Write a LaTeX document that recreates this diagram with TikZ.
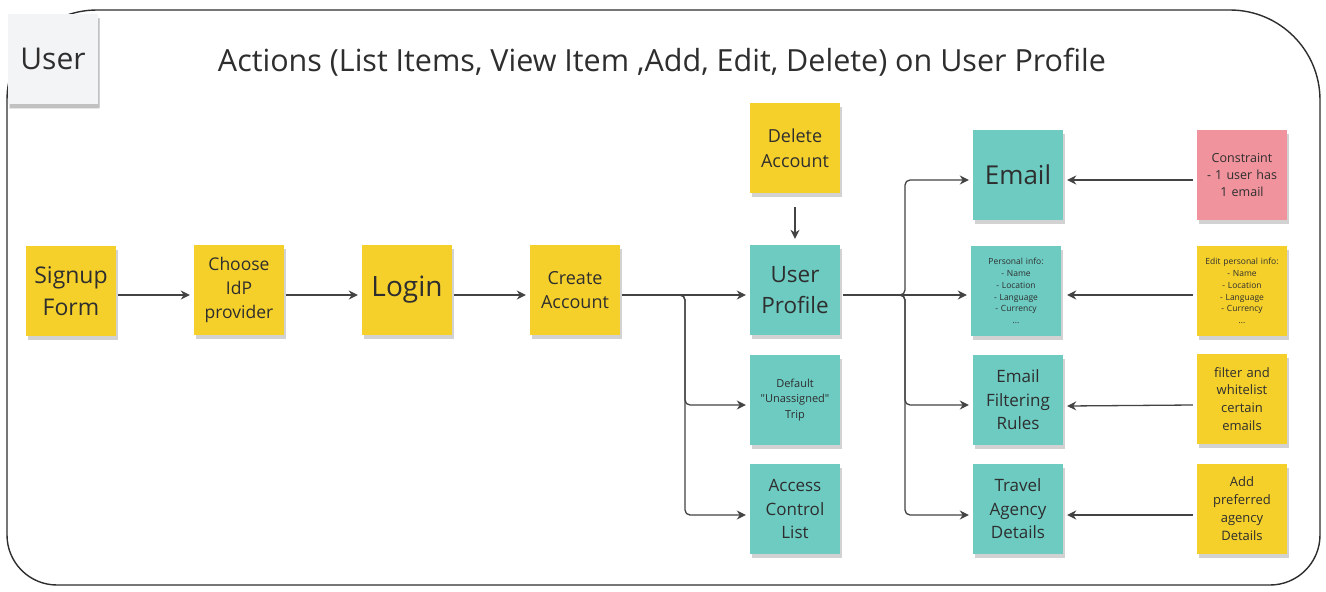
\documentclass[tikz,border=0pt]{standalone}
\usepackage{fontspec}
\setmainfont{Open Sans}
\newfontfamily\plainfont{Open Sans}
\usetikzlibrary{arrows.meta,shadows,calc}
\definecolor{ylw}{HTML}{F5D02B}
\definecolor{teal}{HTML}{6DCBC2}
\definecolor{pnk}{HTML}{F0939D}
\definecolor{gry}{HTML}{F3F4F6}
\definecolor{ink}{HTML}{2E2E2E}
\newcommand{\fs}[1]{\fontsize{#1}{1.38\dimexpr#1pt\relax}\selectfont}
\tikzset{
  sticky/.style={minimum width=90pt,minimum height=90pt,inner sep=2pt,align=center,text=ink,
    text width=86pt,
    drop shadow={shadow xshift=2pt,shadow yshift=-4pt,opacity=0.25,fill=black!70}},
  yel/.style={sticky,fill=ylw},
  tea/.style={sticky,fill=teal},
  pin/.style={sticky,fill=pnk},
  conn/.style={draw=ink!90,line width=1.3pt,-{Stealth[length=9pt,width=9pt]},rounded corners=5pt},
}
\begin{document}
\begin{tikzpicture}[x=1pt,y=-1pt]
\useasboundingbox (0,0) rectangle (1326,592);
\fill[white] (0,0) rectangle (1326,592);
% frame
\draw[line width=1.4pt,ink] (7,300) [rounded corners=90pt] -- (7,10) -- (660,10) -- (1320,10) -- (1320,300) [rounded corners=50pt] -- (1320,585) -- (7,585) -- (7,300);
% user sticky
\node[sticky,fill=gry,font=\fs{30},drop shadow={shadow xshift=1pt,shadow yshift=-5pt,opacity=0.2}] (user) at (53,59) {User};
\node[text=ink,font=\fs{30.5}] (title) at (662,62) {Actions (List Items, View Item ,Add, Edit, Delete) on User Profile};
% stickies
\node[yel,font=\fs{23}] (signup) at (71,291) {Signup\\Form};
\node[yel,font=\fs{17.5}] (idp) at (239,290) {Choose\\IdP\\provider};
\node[yel,font=\fs{28}] (login) at (407,290) {Login};
\node[yel,font=\fs{18}] (create) at (575,290) {Create\\Account};
\node[yel,font=\fs{18}] (delete) at (795,148) {Delete\\Account};
\node[tea,font=\fs{22.5}] (profile) at (795,290) {User\\Profile};
\node[tea,font=\plainfont\fs{11}] (trip) at (795,400) {Default\\"Unassigned"\\Trip};
\node[tea,font=\fs{17}] (acl) at (795,509) {Access\\Control\\List};
\node[tea,font=\fs{26}] (email) at (1018,175) {Email};
\node[tea,font=\fs{8.5}] (pinfo) at (1016,291) {Personal info:\\- Name\\- Location\\- Language\\- Currency\\...};
\node[tea,font=\fs{17}] (filt) at (1018,400) {Email\\Filtering\\Rules};
\node[tea,font=\fs{17}] (travel) at (1018,509) {Travel\\Agency\\Details};
\node[pin,font=\fs{12.5}] (constr) at (1242,175) {Constraint\\- 1 user has\\1 email};
\node[yel,font=\fs{8.5}] (edit) at (1242,291) {Edit personal info:\\- Name\\- Location\\- Language\\- Currency\\...};
\node[yel,font=\fs{13}] (wl) at (1242,399) {filter and\\whitelist\\certain\\emails};
\node[yel,font=\fs{13}] (agency) at (1242,509) {Add\\preferred\\agency\\Details};
% connectors
\coordinate (sy) at (0,295);
\draw[conn] (signup.east |- sy) ++(2,0) -- ($(idp.west |- sy)+(-4,0)$);
\draw[conn] (idp.east |- sy) ++(2,0) -- ($(login.west |- sy)+(-4,0)$);
\draw[conn] (login.east |- sy) ++(2,0) -- ($(create.west |- sy)+(-4,0)$);
\draw[conn] (create.east |- sy) ++(2,0) -- ($(profile.west |- sy)+(-4,0)$);
\coordinate (b1) at (685,295);
\coordinate (b2) at (905,295);
\coordinate (c1) at ($(create.east |- sy)+(2,0)$);
\coordinate (c2) at ($(profile.east |- sy)+(3,0)$);
\draw[conn] (c1) -- (b1) |- ($(trip.west)+(-4,5)$);
\draw[conn] (c1) -- (b1) |- ($(acl.west)+(-4,6)$);
\draw[conn] (delete.south) ++(0,14) -- ($(profile.north)+(0,-6)$);
\draw[conn] (c2) -- (b2) |- ($(email.west)+(-4,5)$);
\draw[conn] (c2) -- ($(pinfo.west |- sy)+(-4,0)$);
\draw[conn] (c2) -- (b2) |- ($(filt.west)+(-4,5)$);
\draw[conn] (c2) -- (b2) |- ($(travel.west)+(-4,6)$);
\draw[conn] ($(constr.west)+(-4,5)$) -- ($(email.east)+(4,5)$);
\draw[conn] ($(edit.west |- sy)+(-4,0)$) -- ($(pinfo.east |- sy)+(6,0)$);
\draw[conn] ($(wl.west)+(-4,6)$) -- ($(filt.east)+(4,6)$);
\draw[conn] ($(agency.west)+(-4,6)$) -- ($(travel.east)+(4,6)$);
\end{tikzpicture}
\end{document}
